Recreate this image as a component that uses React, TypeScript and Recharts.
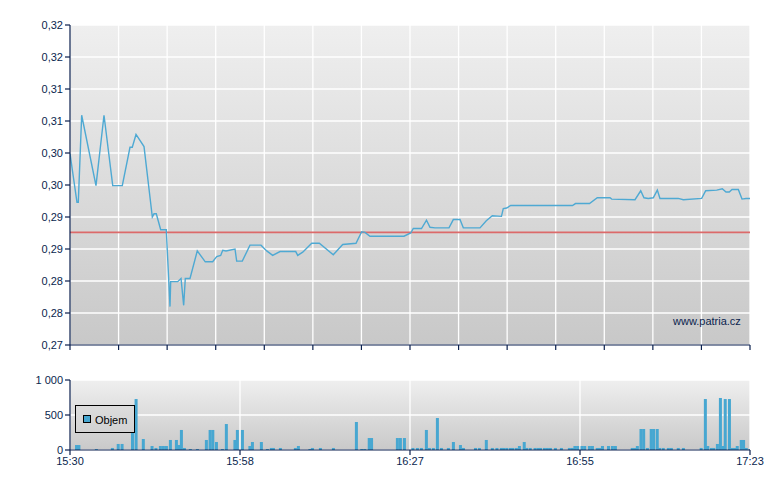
import React from 'react';
import { LineChart, Line, XAxis, YAxis, CartesianGrid, ReferenceLine, BarChart, Bar } from 'recharts';

// minutes after 15:30
const priceTimes = [
  0, 1.16, 1.38, 1.94, 4.32, 5.65, 7.1, 8.69, 9.97, 10.35,
  10.97, 12.3, 13.68, 13.96, 14.34, 15.07, 16.0, 16.62, 16.73, 17.9,
  18.45, 18.89, 19.16, 19.94, 21.15, 22.48, 23.71, 24.38, 25.04, 25.38,
  25.92, 27.42, 27.7, 28.63, 29.91, 31.74, 32.69, 33.68, 34.9, 37.51,
  37.84, 38.67, 40.17, 41.43, 43.75, 45.32, 47.53, 48.47, 49.02, 49.85,
  55.5, 56.62, 57.05, 58.41, 59.24, 59.82, 60.65, 62.98, 63.7, 64.81,
  65.36, 68.13, 69.18, 70.18, 71.7, 72.0, 72.57, 73.23, 83.5, 84.0,
  86.33, 87.62, 89.74, 90.02, 93.89, 94.84, 95.38, 96.1, 96.93, 97.6,
  98.04, 101.08, 101.92, 104.97, 105.64, 107.47, 108.4, 109.01, 109.56, 110.01,
  111.06, 111.67, 112.34, 113,
];
const priceValues = [
  0.2999, 0.2923, 0.2923, 0.3059, 0.2949, 0.3059, 0.2949, 0.2949, 0.3009, 0.3009,
  0.3029, 0.301, 0.29, 0.2905, 0.2905, 0.288, 0.288, 0.276, 0.2799, 0.2799,
  0.2804, 0.2762, 0.2804, 0.2804, 0.2847, 0.283, 0.283, 0.2838, 0.284, 0.2848,
  0.2847, 0.285, 0.2831, 0.2831, 0.2856, 0.2856, 0.2847, 0.284, 0.2846, 0.2846,
  0.284, 0.2845, 0.2859, 0.2859, 0.2841, 0.2857, 0.2859, 0.2877, 0.2876, 0.287,
  0.287, 0.2875, 0.2882, 0.2882, 0.2895, 0.2884, 0.2883, 0.2883, 0.2896, 0.2896,
  0.2883, 0.2883, 0.2894, 0.2902, 0.2901, 0.2913, 0.2914, 0.2918, 0.2918, 0.2921,
  0.2921, 0.293, 0.293, 0.2928, 0.2927, 0.2941, 0.293, 0.2929, 0.293, 0.2942,
  0.2929, 0.2929, 0.2927, 0.2929, 0.2941, 0.2942, 0.2944, 0.2939, 0.2939, 0.2943,
  0.2943, 0.2928, 0.2929, 0.2929,
];
const referencePrice = 0.2876;

const priceTicks = [0.27, 0.275, 0.28, 0.285, 0.29, 0.295, 0.3, 0.305, 0.31, 0.315, 0.32];
const priceTickLabels = ['0,27', '0,28', '0,28', '0,29', '0,29', '0,30', '0,30', '0,31', '0,31', '0,32', '0,32'];

const volumeTimes = [
  1.1, 1.5, 4.4, 7.06, 8.03, 8.67, 10.4, 11.0, 12.2, 13.65,
  14.3, 15.04, 15.54, 16.04, 16.7, 17.7, 18.06, 18.53, 19.03, 20.02,
  21.19, 22.68, 23.3, 23.75, 24.35, 25.34, 26.0, 27.42, 27.83, 28.67,
  29.91, 30.33, 31.82, 32.82, 33.48, 33.82, 34.98, 37.47, 37.97, 39.88,
  40.3, 41.63, 43.79, 47.61, 48.5, 49.0, 49.74, 50.13, 54.42, 54.92,
  55.59, 57.0, 57.75, 58.41, 59.24, 59.74, 60.4, 61.07, 61.74, 62.9,
  63.73, 64.9, 65.4, 67.4, 68.05, 69.2, 70.2, 70.96, 71.7, 72.1,
  72.6, 73.2, 73.6, 74.2, 74.7, 75.5, 75.9, 76.5, 77.3, 77.8,
  78.2, 78.85, 79.35, 79.85, 80.68, 81.68, 83.0, 83.5, 83.92, 84.37,
  85.1, 85.55, 86.33, 86.83, 87.63, 88.0, 88.5, 89.5, 90.15, 90.65,
  93.45, 93.83, 94.3, 94.9, 95.35, 95.97, 96.6, 97.0, 97.6, 98.0,
  98.6, 99.45, 99.95, 101.1, 101.95, 104.9, 105.6, 106.0, 106.6, 107.0,
  107.6, 108.1, 108.5, 108.9, 109.6, 110.06, 110.45, 110.9, 111.56, 111.95,
  112.4, 113,
];
const volumeValues = [
  71, 71, 14, 29, 86, 86, 357, 728, 157, 57,
  29, 57, 57, 57, 143, 143, 71, 286, 29, 14,
  14, 143, 286, 286, 114, 14, 371, 143, 286, 286,
  57, 114, 114, 14, 29, 29, 29, 29, 57, 14,
  29, 29, 29, 400, 14, 14, 171, 171, 171, 171,
  171, 29, 29, 29, 286, 29, 29, 457, 29, 29,
  114, 71, 29, 29, 29, 143, 29, 29, 29, 29,
  29, 29, 29, 29, 57, 114, 29, 29, 29, 29,
  29, 29, 29, 29, 29, 29, 29, 29, 57, 57,
  57, 57, 57, 57, 29, 29, 57, 57, 57, 57,
  29, 29, 57, 300, 300, 29, 300, 300, 300, 29,
  29, 29, 29, 29, 29, 29, 728, 57, 29, 29,
  86, 743, 57, 728, 728, 29, 29, 57, 143, 143,
  29, 14,
];
const volumeTicks = [0, 500, 1000];
const volumeTickLabels = ['0', '500', '1 000'];

const timeTickMinutes = [0, 28.25, 56.5, 84.75, 113];
const timeTickLabels = ['15:30', '15:58', '16:27', '16:55', '17:23'];

const SESSION_MINUTES = 113;
const PRICE_GRID_STEPS = 14;

const priceData = priceTimes.map((t, i) => ({ t, price: priceValues[i] }));
const volumeData = volumeTimes.map((t, i) => ({ t, vol: volumeValues[i] }));
const priceGridTicks = Array.from({ length: PRICE_GRID_STEPS + 1 }, (_, i) => (i * SESSION_MINUTES) / PRICE_GRID_STEPS);

const NAVY = '#0a1f4e';
const FONT = '"Liberation Sans", Arial, sans-serif';
const tickStyle = { fill: NAVY, fontSize: 11, fontFamily: FONT };

const VolumeBar = (props: any) => {
  const { x, y, width, height } = props;
  if (!height || height <= 0) return null;
  const cx = x + width / 2;
  return <rect x={cx - 1.5} y={y} width={3} height={height} fill="#47a7d1" />;
};

export default function App() {
  return (
    <div style={{ position: 'absolute', left: 0, top: 0, width: 780, height: 490, background: '#fff', fontFamily: FONT }}>
      <div style={{ position: 'absolute', left: 0, top: 0 }}>
        <LineChart width={780} height={360} data={priceData} margin={{ top: 25, right: 30, bottom: 10, left: 0 }}>
          <defs>
            <linearGradient id="mainBg" x1="0" y1="0" x2="0" y2="1">
              <stop offset="0%" stopColor="#efefef" />
              <stop offset="100%" stopColor="#c8c8c8" />
            </linearGradient>
          </defs>
          <CartesianGrid fill="url(#mainBg)" stroke="#ffffff" strokeWidth={1.3} />
          <XAxis
            type="number"
            dataKey="t"
            domain={[0, SESSION_MINUTES]}
            ticks={priceGridTicks}
            interval={0}
            tick={tickStyle}
            tickFormatter={() => ''}
            height={5}
            tickSize={5}
            axisLine={{ stroke: NAVY, strokeWidth: 1.2 }}
            tickLine={{ stroke: NAVY, strokeWidth: 1.2 }}
            allowDataOverflow
          />
          <YAxis
            type="number"
            domain={[0.27, 0.32]}
            ticks={priceTicks}
            interval={0}
            width={70}
            tickSize={5}
            allowDataOverflow
            tick={tickStyle}
            axisLine={{ stroke: NAVY, strokeWidth: 1.2 }}
            tickLine={{ stroke: NAVY, strokeWidth: 1.2 }}
            tickFormatter={(v: number) => {
              const idx = priceTicks.findIndex((p) => Math.abs(p - v) < 1e-6);
              return idx >= 0 ? priceTickLabels[idx] : '';
            }}
          />
          <ReferenceLine y={referencePrice} stroke="#dc6a6a" strokeWidth={1.6} />
          <Line
            type="linear"
            dataKey="price"
            stroke="#4ea9d3"
            strokeWidth={1.4}
            dot={false}
            isAnimationActive={false}
          />
        </LineChart>
      </div>
      <div
        style={{
          position: 'absolute',
          left: 673,
          top: 316,
          fontSize: 11,
          lineHeight: '11px',
          color: NAVY,
          whiteSpace: 'nowrap',
        }}
      >
        www.patria.cz
      </div>
      <div style={{ position: 'absolute', left: 0, top: 360 }}>
        <BarChart width={780} height={130} data={volumeData} margin={{ top: 20, right: 30, bottom: 10, left: 0 }}>
          <defs>
            <linearGradient id="volBg" x1="0" y1="0" x2="0" y2="1">
              <stop offset="0%" stopColor="#efefef" />
              <stop offset="100%" stopColor="#c9c9c9" />
            </linearGradient>
          </defs>
          <CartesianGrid fill="url(#volBg)" stroke="#ffffff" strokeWidth={1.3} />
          <XAxis
            type="number"
            dataKey="t"
            domain={[0, SESSION_MINUTES]}
            ticks={timeTickMinutes}
            interval={0}
            height={30}
            tickSize={5}
            allowDataOverflow
            tick={tickStyle}
            axisLine={{ stroke: NAVY, strokeWidth: 1.2 }}
            tickLine={{ stroke: NAVY, strokeWidth: 1.2 }}
            tickFormatter={(v: number) => {
              const idx = timeTickMinutes.findIndex((p) => Math.abs(p - v) < 1e-6);
              return idx >= 0 ? timeTickLabels[idx] : '';
            }}
          />
          <YAxis
            type="number"
            domain={[0, 1000]}
            ticks={volumeTicks}
            interval={0}
            width={70}
            tickSize={5}
            tick={tickStyle}
            axisLine={{ stroke: NAVY, strokeWidth: 1.2 }}
            tickLine={{ stroke: NAVY, strokeWidth: 1.2 }}
            tickFormatter={(v: number) => {
              const idx = volumeTicks.indexOf(v);
              return idx >= 0 ? volumeTickLabels[idx] : '';
            }}
          />
          <Bar dataKey="vol" barSize={3} shape={VolumeBar} isAnimationActive={false} />
        </BarChart>
      </div>
      <div
        style={{
          position: 'absolute',
          left: 75,
          top: 405,
          width: 60,
          height: 28,
          boxSizing: 'border-box',
          border: '1px solid #000',
          background: 'linear-gradient(#dcdcdc, #d2d2d2)',
        }}
      >
        <div
          style={{
            position: 'absolute',
            left: 7,
            top: 9,
            width: 8,
            height: 8,
            boxSizing: 'border-box',
            border: '1px solid #000',
            background: '#47a7d1',
          }}
        />
        <span
          style={{
            position: 'absolute',
            left: 19,
            top: 9,
            fontSize: 11,
            lineHeight: '11px',
            color: '#000',
            whiteSpace: 'nowrap',
          }}
        >
          Objem
        </span>
      </div>
    </div>
  );
}
